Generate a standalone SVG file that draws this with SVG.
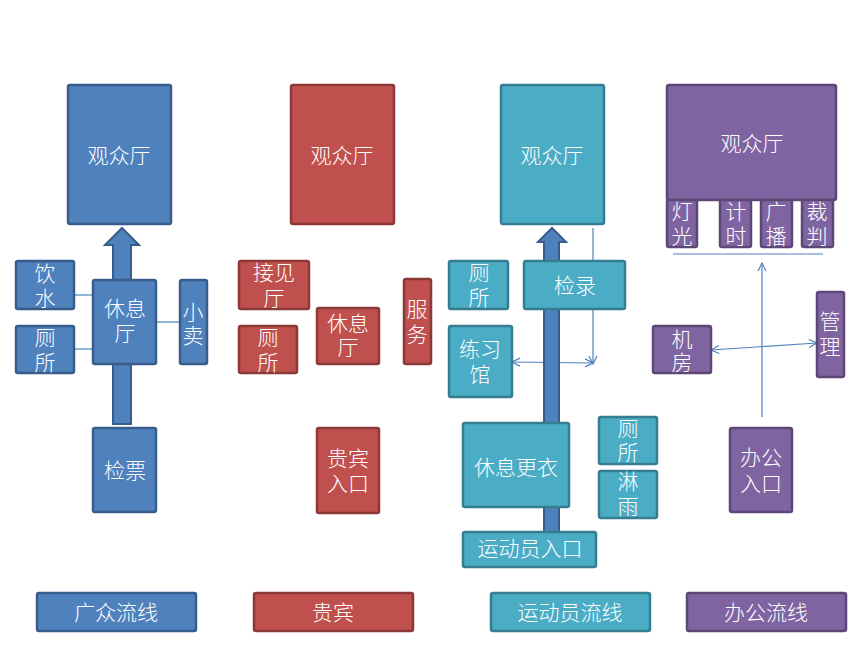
<svg xmlns="http://www.w3.org/2000/svg" width="860" height="645" viewBox="0 0 860 645">
<style>
.b{fill:#4F81BD;stroke:#385D8A;stroke-width:2.5}
.r{fill:#C0504D;stroke:#8C3836;stroke-width:2.5}
.c{fill:#4BACC6;stroke:#357D91;stroke-width:2.5}
.p{fill:#8064A2;stroke:#5C4776;stroke-width:2.5}
text{font-family:"Noto Sans CJK SC","Noto Sans CJK JP",sans-serif;font-size:21px;fill:#FFFFFF;text-anchor:middle;font-weight:300}
.ln{stroke:#4F81BD;stroke-width:1.2;fill:none}
.ar{stroke:#4F81BD;stroke-width:1.2;fill:none;marker-end:url(#oa)}
.ar2{stroke:#4F81BD;stroke-width:1.2;fill:none;marker-start:url(#os);marker-end:url(#oa)}
.blk{fill:#4F81BD;stroke:#385D8A;stroke-width:2}
</style>
<defs>
<marker id="oa" viewBox="0 0 10 10" refX="9" refY="5" markerWidth="10" markerHeight="10" markerUnits="userSpaceOnUse" orient="auto">
<path d="M1,1 L9,5 L1,9" fill="none" stroke="#4F81BD" stroke-width="1.2"/>
</marker>
<marker id="os" viewBox="0 0 10 10" refX="1" refY="5" markerWidth="10" markerHeight="10" markerUnits="userSpaceOnUse" orient="auto">
<path d="M9,1 L1,5 L9,9" fill="none" stroke="#4F81BD" stroke-width="1.2"/>
</marker>
</defs>
<rect width="860" height="645" fill="#FFFFFF"/>

<g id="connectors">
<path class="blk" d="M113,424 L113,245 L105,245 L122,228 L139,245 L131,245 L131,424 Z"/>
<line class="ln" x1="74" y1="295" x2="93" y2="295"/>
<line class="ln" x1="74" y1="349" x2="93" y2="349"/>
<line class="ln" x1="156" y1="322" x2="180" y2="322"/>
<line class="ar2" x1="512" y1="362" x2="593" y2="363"/>
<path class="blk" d="M544,532 L544,242 L538,242 L552,228 L566,242 L559,242 L559,532 Z"/>
<line class="ar" x1="593" y1="228" x2="593" y2="364"/>
<line class="ln" x1="673" y1="254" x2="823" y2="254"/>
<line class="ar" x1="762" y1="417" x2="762" y2="263"/>
<line class="ar2" x1="711" y1="350" x2="817" y2="343"/>
</g>

<g id="blue-hall"><rect class="b" x="68" y="85" width="103" height="139" rx="2"/><text x="119" y="163">观众厅</text></g>
<g id="blue-water"><rect class="b" x="16" y="261" width="58" height="48" rx="2"/><text x="45" y="281">饮<tspan x="45" dy="25">水</tspan></text></g>
<g id="blue-wc"><rect class="b" x="16" y="326" width="58" height="47" rx="2"/><text x="45" y="345">厕<tspan x="45" dy="25">所</tspan></text></g>
<g id="blue-lounge"><rect class="b" x="93" y="280" width="63" height="84" rx="2"/><text x="125" y="316">休息<tspan x="125" dy="25">厅</tspan></text></g>
<g id="blue-shop"><rect class="b" x="180" y="280" width="27" height="84" rx="2"/><text x="193" y="320">小<tspan x="193" dy="23">卖</tspan></text></g>
<g id="blue-ticket"><rect class="b" x="93" y="428" width="63" height="84" rx="2"/><text x="125" y="478">检票</text></g>

<g id="red-hall"><rect class="r" x="291" y="85" width="103" height="139" rx="2"/><text x="342" y="163">观众厅</text></g>
<g id="red-reception"><rect class="r" x="239" y="261" width="70" height="48" rx="2"/><text x="274" y="280">接见<tspan x="274" dy="26">厅</tspan></text></g>
<g id="red-wc"><rect class="r" x="239" y="326" width="58" height="47" rx="2"/><text x="268" y="345">厕<tspan x="268" dy="25">所</tspan></text></g>
<g id="red-lounge"><rect class="r" x="317" y="308" width="62" height="56" rx="2"/><text x="348" y="331">休息<tspan x="348" dy="24">厅</tspan></text></g>
<g id="red-service"><rect class="r" x="404" y="279" width="27" height="85" rx="2"/><text x="417" y="317">服<tspan x="417" dy="25">务</tspan></text></g>
<g id="red-entry"><rect class="r" x="317" y="428" width="62" height="85" rx="2"/><text x="348" y="466">贵宾<tspan x="348" dy="25">入口</tspan></text></g>

<g id="cyan-hall"><rect class="c" x="501" y="85" width="103" height="139" rx="2"/><text x="552" y="163">观众厅</text></g>
<g id="cyan-wc1"><rect class="c" x="449" y="261" width="59" height="48" rx="2"/><text x="479" y="280">厕<tspan x="479" dy="25">所</tspan></text></g>
<g id="cyan-check"><rect class="c" x="524" y="261" width="101" height="48" rx="2"/><text x="575" y="293">检录</text></g>
<g id="cyan-practice"><rect class="c" x="449" y="326" width="63" height="71" rx="2"/><text x="480" y="357">练习<tspan x="480" dy="25">馆</tspan></text></g>
<g id="cyan-locker"><rect class="c" x="463" y="423" width="106" height="84" rx="2"/><text x="516" y="475">休息更衣</text></g>
<g id="cyan-wc2"><rect class="c" x="599" y="417" width="58" height="47" rx="2"/><text x="628" y="436">厕<tspan x="628" dy="24">所</tspan></text></g>
<g id="cyan-shower"><rect class="c" x="599" y="471" width="58" height="47" rx="2"/><text x="628" y="489">淋<tspan x="628" dy="25">雨</tspan></text></g>
<g id="cyan-entry"><rect class="c" x="463" y="532" width="133" height="35" rx="2"/><text x="530" y="556">运动员入口</text></g>

<g id="purple-hall"><rect class="p" x="667" y="85" width="169" height="115" rx="2"/><text x="752" y="151">观众厅</text></g>
<g id="purple-light"><rect class="p" x="667" y="200" width="30" height="47" rx="2"/><text x="682" y="219">灯<tspan x="682" dy="25">光</tspan></text></g>
<g id="purple-timer"><rect class="p" x="720" y="200" width="31" height="47" rx="2"/><text x="736" y="219">计<tspan x="736" dy="25">时</tspan></text></g>
<g id="purple-broadcast"><rect class="p" x="761" y="200" width="31" height="47" rx="2"/><text x="776" y="219">广<tspan x="776" dy="25">播</tspan></text></g>
<g id="purple-referee"><rect class="p" x="802" y="200" width="31" height="47" rx="2"/><text x="817" y="219">裁<tspan x="817" dy="25">判</tspan></text></g>
<g id="purple-machine"><rect class="p" x="653" y="326" width="58" height="47" rx="2"/><text x="682" y="347">机<tspan x="682" dy="23">房</tspan></text></g>
<g id="purple-admin"><rect class="p" x="817" y="292" width="27" height="85" rx="2"/><text x="830" y="329">管<tspan x="830" dy="25">理</tspan></text></g>
<g id="purple-entry"><rect class="p" x="730" y="428" width="62" height="84" rx="2"/><text x="761" y="465">办公<tspan x="761" dy="26">入口</tspan></text></g>

<g id="legend-public"><rect class="b" x="37" y="593" width="159" height="38" rx="2"/><text x="116" y="620">广众流线</text></g>
<g id="legend-vip"><rect class="r" x="254" y="593" width="159" height="38" rx="2"/><text x="333" y="620">贵宾</text></g>
<g id="legend-athlete"><rect class="c" x="491" y="593" width="159" height="38" rx="2"/><text x="570" y="620">运动员流线</text></g>
<g id="legend-office"><rect class="p" x="687" y="593" width="159" height="38" rx="2"/><text x="766" y="620">办公流线</text></g>
</svg>
